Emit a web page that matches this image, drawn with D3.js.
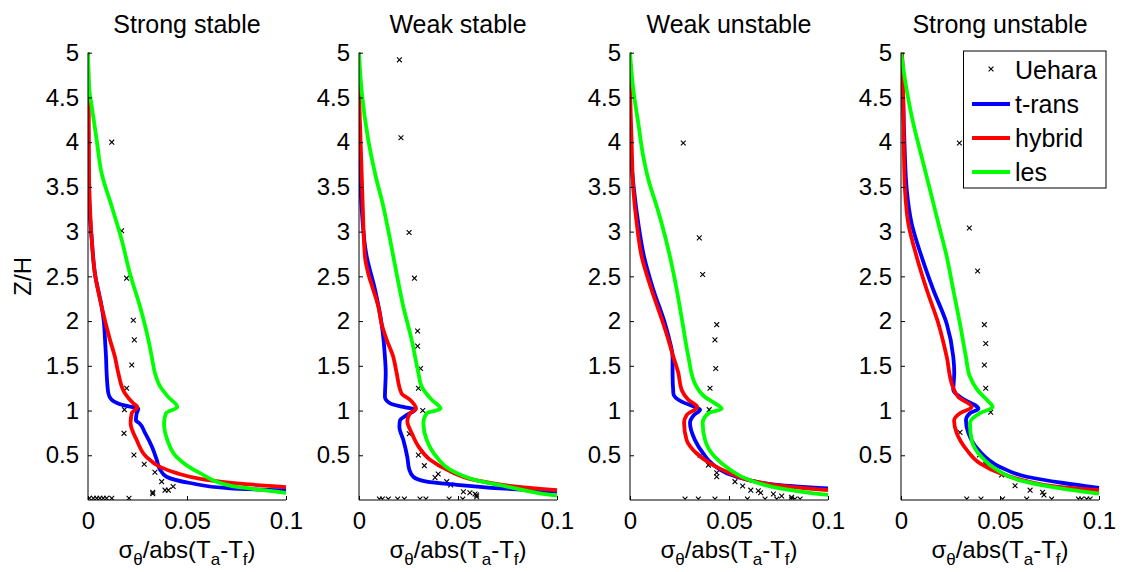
<!DOCTYPE html>
<html>
<head>
<meta charset="utf-8">
<script src="https://cdn.jsdelivr.net/npm/d3@7"></script>
<style>
  html, body { margin: 0; padding: 0; background: #fff; }
  svg { display: block; font-family: "Liberation Sans", Arial, sans-serif; }
</style>
</head>
<body>
<svg id="chart" width="1124" height="572"></svg>
<script>
// Normalised temperature fluctuation profiles, sigma_theta/|Ta - Tf| versus Z/H
const panelTitles = ["Strong stable", "Weak stable", "Weak unstable", "Strong unstable"];
const seriesNames = ["Uehara", "t-rans", "hybrid", "les"];
const seriesColors = { "t-rans": "#0000ff", "hybrid": "#ff0000", "les": "#00ff00" };
const xTicks = [0, 0.05, 0.1];
const yTicks = [0.5, 1, 1.5, 2, 2.5, 3, 3.5, 4, 4.5, 5];

// Each profile is a list of [sigma, Z/H] pairs
const strongStableUehara = [[0.0120,4.00],[0.0170,3.01],[0.0195,2.48],[0.0229,2.01],[0.0234,1.79],[0.0221,1.51],[0.0195,1.25],[0.0184,1.01],[0.0182,0.745],[0.0232,0.503],[0.0284,0.40],[0.0338,0.31],[0.0372,0.205],[0.0389,0.11],[0.0406,0.11],[0.0430,0.15],[0.0327,0.086],[0.0327,0.07],[0.0007,0.02],[0.0027,0.02],[0.0044,0.02],[0.0060,0.02],[0.0077,0.02],[0.0094,0.02],[0.0120,0.02],[0.0207,0.02]];
const strongStableTrans = [[0,5],[0.0002,4.0],[0.0003,3.73],[0.0007,3.28],[0.0019,2.91],[0.0035,2.53],[0.0069,2.16],[0.0081,1.97],[0.0086,1.79],[0.0091,1.60],[0.0094,1.42],[0.0103,1.19],[0.0120,1.12],[0.0178,1.06],[0.0254,1.02],[0.0246,0.97],[0.0242,0.89],[0.0259,0.86],[0.0288,0.75],[0.0322,0.60],[0.0347,0.45],[0.0364,0.34],[0.0397,0.26],[0.0515,0.19],[0.0717,0.13],[0.1000,0.11]];
const strongStableHybrid = [[0,5],[0.0003,4.5],[0.0005,3.65],[0.0010,3.28],[0.0019,2.91],[0.0035,2.53],[0.0069,2.16],[0.0111,1.79],[0.0136,1.60],[0.0153,1.42],[0.0187,1.19],[0.0229,1.08],[0.0249,1.04],[0.0221,0.97],[0.0215,0.86],[0.0246,0.67],[0.0296,0.48],[0.0364,0.37],[0.0448,0.30],[0.0582,0.23],[0.0751,0.185],[0.1000,0.145]];
const strongStableLes = [[0,5],[0.0007,4.58],[0.0019,4.40],[0.0044,4.02],[0.0069,3.65],[0.0120,3.28],[0.0170,2.91],[0.0212,2.53],[0.0263,2.16],[0.0305,1.79],[0.0322,1.60],[0.0338,1.42],[0.0364,1.27],[0.0406,1.15],[0.0451,1.04],[0.0394,0.97],[0.0384,0.86],[0.0401,0.67],[0.0448,0.48],[0.0566,0.30],[0.0717,0.16],[0.0886,0.11],[0.1000,0.08]];

const weakStableUehara = [[0.0204,4.92],[0.0212,4.05],[0.0253,2.99],[0.0280,2.48],[0.0296,1.89],[0.0296,1.72],[0.0311,1.47],[0.0300,1.25],[0.0322,1.00],[0.0254,0.74],[0.0300,0.503],[0.0330,0.384],[0.0384,0.25],[0.0400,0.29],[0.0443,0.205],[0.0463,0.168],[0.0527,0.093],[0.0560,0.082],[0.0586,0.067],[0.0594,0.037],[0.0594,0.056],[0.0103,0.01],[0.0118,0.01],[0.0148,0.01],[0.0195,0.01],[0.0229,0.01],[0.0308,0.01],[0.0338,0.01],[0.0455,0.01],[0.0524,0.01]];
const weakStableTrans = [[0,5],[0,4.21],[0.0013,3.28],[0.0039,2.72],[0.0081,2.35],[0.0114,1.97],[0.0131,1.60],[0.0135,1.42],[0.0131,1.15],[0.0157,1.08],[0.0224,1.04],[0.0283,1.01],[0.0241,0.95],[0.0207,0.89],[0.0204,0.82],[0.0224,0.67],[0.0244,0.48],[0.0254,0.34],[0.0274,0.26],[0.0342,0.205],[0.0493,0.17],[0.0712,0.13],[0.1000,0.093]];
const weakStableHybrid = [[0,5],[0,4.69],[0.0008,4.02],[0.0019,3.28],[0.0030,2.72],[0.0047,2.53],[0.0072,2.35],[0.0098,2.16],[0.0114,1.97],[0.0140,1.79],[0.0173,1.60],[0.0190,1.42],[0.0215,1.19],[0.0258,1.12],[0.0288,1.02],[0.0258,0.97],[0.0244,0.88],[0.0266,0.75],[0.0300,0.60],[0.0359,0.45],[0.0443,0.34],[0.0594,0.22],[0.0796,0.15],[0.1000,0.11]];
const weakStableLes = [[0,5],[0.0013,4.58],[0.0047,4.02],[0.0081,3.65],[0.0123,3.28],[0.0157,2.91],[0.0190,2.53],[0.0224,2.16],[0.0266,1.79],[0.0300,1.42],[0.0316,1.27],[0.0367,1.12],[0.0412,1.02],[0.0342,0.97],[0.0325,0.86],[0.0342,0.67],[0.0392,0.48],[0.0460,0.34],[0.0594,0.22],[0.0746,0.15],[0.0914,0.075],[0.1000,0.05]];

const weakUnstableUehara = [[0.0269,3.99],[0.0350,2.93],[0.0367,2.52],[0.0438,1.96],[0.0429,1.79],[0.0433,1.47],[0.0404,1.25],[0.0400,1.01],[0.0354,0.50],[0.0396,0.39],[0.0438,0.305],[0.0438,0.26],[0.0530,0.205],[0.0569,0.156],[0.0610,0.11],[0.0648,0.104],[0.0660,0.082],[0.0724,0.067],[0.0766,0.045],[0.0816,0.03],[0.0278,0.01],[0.0345,0.01],[0.0429,0.01],[0.0593,0.01],[0.0682,0.01],[0.0741,0.01],[0.0816,0.01],[0.0833,0.01],[0.0859,0.01]];
const weakUnstableTrans = [[0,5],[0,4.10],[0.0020,3.47],[0.0042,3.09],[0.0071,2.72],[0.0118,2.35],[0.0177,1.97],[0.0199,1.79],[0.0215,1.60],[0.0215,1.42],[0.0219,1.19],[0.0261,1.10],[0.0328,1.04],[0.0354,1.01],[0.0323,0.95],[0.0303,0.86],[0.0328,0.67],[0.0370,0.52],[0.0412,0.41],[0.0488,0.30],[0.0606,0.22],[0.0741,0.17],[0.1000,0.13]];
const weakUnstableHybrid = [[0,5],[0,4.73],[0.0008,4.02],[0.0017,3.47],[0.0034,3.09],[0.0059,2.72],[0.0109,2.35],[0.0168,1.97],[0.0194,1.79],[0.0219,1.60],[0.0244,1.42],[0.0261,1.23],[0.0295,1.12],[0.0340,1.04],[0.0286,0.95],[0.0273,0.86],[0.0286,0.67],[0.0337,0.52],[0.0404,0.41],[0.0505,0.30],[0.0606,0.22],[0.0724,0.17],[0.1000,0.11]];
const weakUnstableLes = [[0,5],[0.0017,4.58],[0.0042,4.21],[0.0067,3.84],[0.0093,3.58],[0.0135,3.28],[0.0160,3.09],[0.0202,2.72],[0.0236,2.35],[0.0266,1.97],[0.0295,1.60],[0.0328,1.30],[0.0379,1.15],[0.0429,1.08],[0.0463,1.02],[0.0396,0.97],[0.0367,0.86],[0.0379,0.67],[0.0429,0.48],[0.0505,0.34],[0.0606,0.22],[0.0758,0.13],[0.0926,0.075],[0.1000,0.056]];

const strongUnstableUehara = [[0.0295,3.99],[0.0345,3.04],[0.0387,2.56],[0.0421,1.96],[0.0428,1.75],[0.0421,1.51],[0.0428,1.25],[0.0453,0.98],[0.0298,0.756],[0.0396,0.503],[0.0428,0.40],[0.0508,0.28],[0.0576,0.16],[0.0652,0.11],[0.0715,0.086],[0.0722,0.056],[0.0332,0.01],[0.0404,0.01],[0.0513,0.01],[0.0635,0.01],[0.0761,0.01],[0.0896,0.01],[0.0912,0.01],[0.0938,0.01],[0.0955,0.01]];
const strongUnstableTrans = [[0.0005,5],[0.0008,4.77],[0.0017,4.02],[0.0029,3.47],[0.0054,3.09],[0.0104,2.72],[0.0163,2.35],[0.0231,1.97],[0.0264,1.60],[0.0269,1.42],[0.0264,1.23],[0.0306,1.14],[0.0391,1.02],[0.0348,0.97],[0.0328,0.89],[0.0340,0.75],[0.0391,0.56],[0.0500,0.37],[0.0635,0.26],[0.0820,0.19],[0.1000,0.135]];
const strongUnstableHybrid = [[0.0005,5],[0.0007,4.9],[0.0012,4.40],[0.0015,3.84],[0.0020,3.47],[0.0037,3.09],[0.0079,2.72],[0.0130,2.35],[0.0189,1.97],[0.0231,1.60],[0.0261,1.27],[0.0290,1.15],[0.0357,1.04],[0.0298,0.97],[0.0268,0.89],[0.0281,0.75],[0.0332,0.56],[0.0399,0.41],[0.0500,0.30],[0.0618,0.22],[0.0786,0.15],[0.1000,0.11]];
const strongUnstableLes = [[0,5],[0.0029,4.58],[0.0062,4.21],[0.0104,3.84],[0.0146,3.47],[0.0189,3.09],[0.0231,2.72],[0.0264,2.35],[0.0298,1.97],[0.0328,1.60],[0.0348,1.38],[0.0386,1.23],[0.0433,1.12],[0.0463,1.04],[0.0399,0.97],[0.0348,0.86],[0.0357,0.67],[0.0407,0.48],[0.0483,0.34],[0.0601,0.22],[0.0753,0.15],[0.0921,0.093],[0.1000,0.07]];

const panels = [
  { title: panelTitles[0], uehara: strongStableUehara, lines: { "t-rans": strongStableTrans, "hybrid": strongStableHybrid, "les": strongStableLes } },
  { title: panelTitles[1], uehara: weakStableUehara, lines: { "t-rans": weakStableTrans, "hybrid": weakStableHybrid, "les": weakStableLes } },
  { title: panelTitles[2], uehara: weakUnstableUehara, lines: { "t-rans": weakUnstableTrans, "hybrid": weakUnstableHybrid, "les": weakUnstableLes } },
  { title: panelTitles[3], uehara: strongUnstableUehara, lines: { "t-rans": strongUnstableTrans, "hybrid": strongUnstableHybrid, "les": strongUnstableLes } }
];

const svg = d3.select("#chart");
const panelLeft = [88, 359, 630, 901];
const panelWidth = 198;
const plotTop = 52.7, plotBottom = 500;
const fontSize = 24;

const y = d3.scaleLinear().domain([0, 5]).range([plotBottom, plotTop]);

function drawCross(g, cx, cy, r) {
  g.append("path")
    .attr("d", `M${cx - r},${cy - r}L${cx + r},${cy + r}M${cx - r},${cy + r}L${cx + r},${cy - r}`)
    .attr("stroke", "#000").attr("stroke-width", 1.1).attr("fill", "none");
}

panels.forEach((p, i) => {
  const x = d3.scaleLinear().domain([0, 0.1]).range([panelLeft[i], panelLeft[i] + panelWidth]);
  const g = svg.append("g");

  const clipId = "clip" + i;
  svg.append("clipPath").attr("id", clipId).append("rect")
    .attr("x", panelLeft[i]).attr("y", plotTop - 2).attr("width", panelWidth + 2).attr("height", plotBottom - plotTop + 2);

  // Measurements
  const marks = g.append("g").attr("clip-path", `url(#${clipId})`);
  p.uehara.forEach(d => drawCross(marks, x(d[0]), y(d[1]), 2.4));

  // Model profiles (Z decreases monotonically along each profile)
  const line = d3.line().curve(d3.curveMonotoneY).x(d => x(d[0])).y(d => y(d[1]));
  ["t-rans", "hybrid", "les"].forEach(name => {
    marks.append("path")
      .datum(p.lines[name])
      .attr("d", line)
      .attr("fill", "none")
      .attr("stroke", seriesColors[name])
      .attr("stroke-width", 3.8)
      .attr("stroke-linejoin", "round");
  });

  // Axes: ticks pointing inward, no box
  const yAxis = d3.axisLeft(y).tickValues(yTicks).tickSize(-4).tickPadding(9)
    .tickFormat(d => d3.format("")(d));
  const ya = g.append("g").attr("transform", `translate(${panelLeft[i]},0)`).call(yAxis);
  const xAxis = d3.axisBottom(x).tickValues(xTicks).tickSize(-4).tickPadding(12)
    .tickFormat(d => d === 0 ? "0" : d3.format("")(d));
  const xa = g.append("g").attr("transform", `translate(0,${plotBottom})`).call(xAxis);

  [ya, xa].forEach(a => {
    a.select(".domain").attr("stroke", "#000").attr("stroke-width", 1)
      .attr("d", a === ya ? `M0,${plotTop}V${plotBottom}` : `M${panelLeft[i]},0H${panelLeft[i] + panelWidth}`);
    a.selectAll(".tick line").attr("stroke", "#000");
    a.selectAll(".tick text").attr("fill", "#000")
      .style("font-size", fontSize + "px").style("font-family", '"Liberation Sans", Arial, sans-serif');
  });
  xa.selectAll(".tick text").attr("dy", "0.71em");

  // Title
  g.append("text")
    .attr("x", panelLeft[i] + panelWidth / 2).attr("y", 33)
    .attr("text-anchor", "middle").style("font-size", "25px")
    .text(p.title);

  // x label with TeX-like subscripts
  const xl = g.append("text")
    .attr("x", panelLeft[i] + panelWidth / 2).attr("y", 558)
    .attr("text-anchor", "middle").style("font-size", "24px");
  xl.append("tspan").text("σ");
  xl.append("tspan").attr("dy", 7).style("font-size", "17px").text("θ");
  xl.append("tspan").attr("dy", -7).text("/abs(T");
  xl.append("tspan").attr("dy", 7).style("font-size", "17px").text("a");
  xl.append("tspan").attr("dy", -7).text("-T");
  xl.append("tspan").attr("dy", 7).style("font-size", "17px").text("f");
  xl.append("tspan").attr("dy", -7).text(")");
});

// y label on the first panel
svg.append("text")
  .attr("transform", `translate(31,${(plotTop + plotBottom) / 2}) rotate(-90)`)
  .attr("text-anchor", "middle").style("font-size", "24px")
  .text("Z/H");

// Legend
const lg = svg.append("g");
lg.append("rect").attr("x", 963.5).attr("y", 51).attr("width", 142.5).attr("height", 137)
  .attr("fill", "#fff").attr("stroke", "#000").attr("stroke-width", 1);
const rowY = [70, 104, 138, 172];
seriesNames.forEach((name, k) => {
  if (name === "Uehara") {
    drawCross(lg, 991, rowY[k] - 1, 2.4);
  } else {
    lg.append("line").attr("x1", 972).attr("x2", 1010).attr("y1", rowY[k]).attr("y2", rowY[k])
      .attr("stroke", seriesColors[name]).attr("stroke-width", 3.8);
  }
  lg.append("text").attr("x", 1015).attr("y", rowY[k]).attr("dy", "0.35em")
    .style("font-size", "25px").text(name);
});
</script>
</body>
</html>
